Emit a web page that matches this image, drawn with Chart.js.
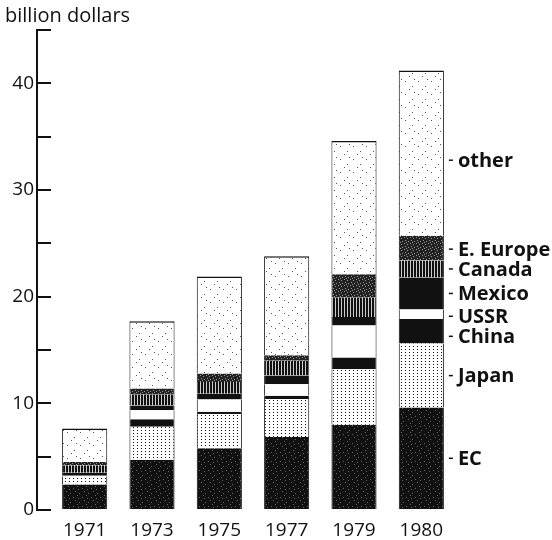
<!DOCTYPE html>
<html>
<head>
<meta charset="utf-8">
<script src="https://cdn.jsdelivr.net/npm/chart.js@4"></script>
<style>
  body { margin: 0; background: #fff; }
  #wrap { width: 552px; height: 540px; }
</style>
</head>
<body>
<div id="wrap"><canvas id="exportsChart" width="552" height="540"></canvas></div>
<script>
// values, billion dollars
const years = ['1971', '1973', '1975', '1977', '1979', '1980'];
const ec      = [2.4, 4.7, 5.8, 6.85, 8.0, 9.6];
const japan   = [0.75, 3.1, 3.2, 3.55, 5.2, 6.0];
const china   = [0, 0.7, 0.2, 0.3, 1.1, 2.3];
const ussr    = [0.05, 0.85, 1.15, 1.1, 3.0, 0.9];
const mexico  = [0.3, 0.45, 0.55, 0.8, 0.8, 3.0];
const canada  = [0.7, 1.0, 1.1, 1.4, 1.8, 1.6];
const eEurope = [0.3, 0.6, 0.8, 0.5, 2.2, 2.3];
const other   = [3.15, 6.3, 9.1, 9.3, 12.5, 15.5];

const ink = '#111';

// little tiles for the printed textures
function tile(w, h, bg, dots, dotColor) {
  const c = document.createElement('canvas');
  c.width = w; c.height = h;
  const t = c.getContext('2d');
  t.fillStyle = bg;
  t.fillRect(0, 0, w, h);
  t.fillStyle = dotColor;
  dots.forEach(d => t.fillRect(d[0], d[1], d[2] || 1, d[3] || 1));
  return t.createPattern(c, 'repeat');
}

const ecFill = tile(9, 9, ink, [[1, 2], [5, 0], [3, 5], [7, 7], [6, 3]], '#666');
const japanFill = tile(4, 3, '#fff', [[1, 1]], ink);
const canadaFill = tile(3, 4, ink, [[2, 0, 1, 4]], '#ccc');
const eEuropeFill = tile(6, 6, '#222', [[0, 1], [3, 0], [2, 3], [5, 4], [4, 2]], '#999');
const otherFill = tile(13, 13, '#fff', [[2, 3], [9, 8], [6, 11], [11, 1]], '#555');

function ds(label, data, fill, top) {
  return {
    label: label,
    data: data,
    backgroundColor: fill,
    borderColor: ink,
    borderWidth: { left: 1, right: 1, top: top ? 1.5 : 0, bottom: 0 },
    borderSkipped: false,
    barPercentage: 0.67,
    categoryPercentage: 1
  };
}

// axis line on the left, ticks pointing into the plot
const axisLine = {
  id: 'axisLine',
  afterDraw(chart) {
    const y = chart.scales.y;
    const ctx = chart.ctx;
    const x = chart.chartArea.left - 14;
    ctx.save();
    ctx.strokeStyle = ink;
    ctx.lineWidth = 2;
    ctx.beginPath();
    ctx.moveTo(x, y.getPixelForValue(45) - 1);
    ctx.lineTo(x, y.getPixelForValue(0) + 1);
    ctx.stroke();
    ctx.restore();
  }
};

// small nudges (px) so the names sit like the printed ones
const labelNudge = [0, 0, 5, 2, 0, 0, 1, 7];

// country names beside the 1980 bar
const sideLabels = {
  id: 'sideLabels',
  afterDatasetsDraw(chart) {
    const ctx = chart.ctx;
    ctx.save();
    ctx.fillStyle = ink;
    ctx.strokeStyle = ink;
    ctx.font = 'bold 20px "Open Sans"';
    ctx.textBaseline = 'middle';
    chart.data.datasets.forEach((d, i) => {
      const bar = chart.getDatasetMeta(i).data[years.length - 1];
      const mid = (bar.y + bar.base) / 2 + labelNudge[i];
      const x = bar.x + bar.width / 2;
      ctx.lineWidth = 1.5;
      ctx.beginPath();
      ctx.moveTo(x + 5, mid);
      ctx.lineTo(x + 9, mid);
      ctx.stroke();
      ctx.fillText(d.label, x + 14, mid + 1);
    });
    ctx.restore();
  }
};

const ctx = document.getElementById('exportsChart').getContext('2d');
new Chart(ctx, {
  type: 'bar',
  data: {
    labels: years,
    datasets: [
      ds('EC', ec, ecFill),
      ds('Japan', japan, japanFill),
      ds('China', china, ink),
      ds('USSR', ussr, '#fff'),
      ds('Mexico', mexico, ink),
      ds('Canada', canada, canadaFill),
      ds('E. Europe', eEurope, eEuropeFill),
      ds('other', other, otherFill, true)
    ]
  },
  options: {
    responsive: false,
    animation: false,
    layout: { padding: { left: 5, right: 97, top: 0, bottom: 0 } },
    plugins: {
      legend: { display: false },
      tooltip: { enabled: false },
      title: {
        display: true,
        text: 'billion dollars',
        align: 'start',
        color: ink,
        font: { family: '"Open Sans"', size: 20, weight: 'normal' },
        padding: { top: 4, bottom: 2 }
      }
    },
    scales: {
      x: {
        stacked: true,
        grid: { display: false },
        border: { display: false },
        ticks: { color: ink, font: { family: '"Open Sans"', size: 19 }, padding: 1 },
        afterFit(scale) { scale.height = 30; }
      },
      y: {
        stacked: true,
        min: 0,
        max: 45,
        border: { display: false },
        grid: { drawOnChartArea: false, drawTicks: true, tickLength: 14, color: ink, lineWidth: 2 },
        ticks: {
          stepSize: 5,
          color: ink,
          padding: 3,
          font: { family: '"Open Sans"', size: 19 },
          callback: v => (v % 10 === 0 ? v : '')
        },
        afterFit(scale) { scale.width = 46; }
      }
    }
  },
  plugins: [axisLine, sideLabels]
});
</script>
</body>
</html>
